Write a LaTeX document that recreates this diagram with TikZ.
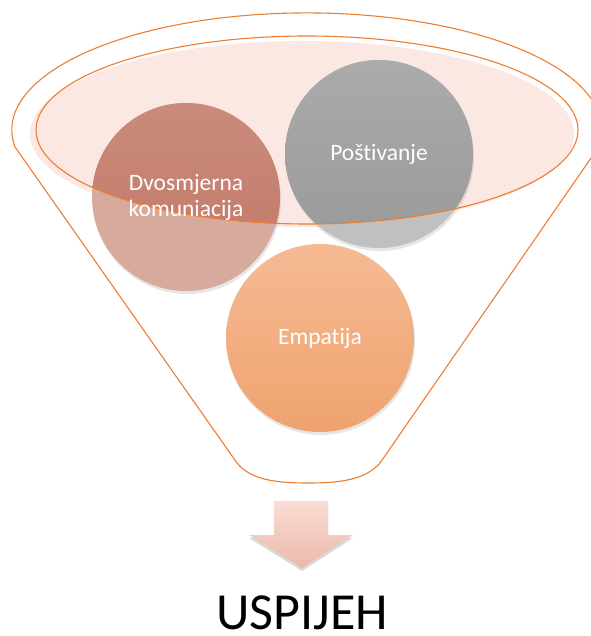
\documentclass[tikz,border=0pt]{standalone}
\usepackage{fontspec}
\setmainfont{Carlito}[Ligatures={NoCommon}]
\usetikzlibrary{shadows}

\definecolor{funnelline}{HTML}{ED7D31}
\definecolor{funnelfill}{HTML}{FBE8E3}
\definecolor{rosedark}{HTML}{C98B7C}
\definecolor{rosedeep}{HTML}{C27665}
\definecolor{roselight}{HTML}{D7AA9E}
\definecolor{greytop}{HTML}{ABABAB}
\definecolor{greybottom}{HTML}{999999}
\definecolor{greylight}{HTML}{C0C0C0}
\definecolor{peachtop}{HTML}{F5BA94}
\definecolor{peachbottom}{HTML}{EFA36E}
\definecolor{arrowtop}{HTML}{FADDD4}
\definecolor{arrowbottom}{HTML}{EBB8AB}

\begin{document}
\begin{tikzpicture}[x=1pt, y=-1pt,
  ball/.style={circle, minimum size=188pt, inner sep=0pt,
    drop shadow={opacity=0.2, shadow xshift=1pt, shadow yshift=-3pt}},
  balltext/.style={text=white, align=center,
    font=\fontsize{23.5}{26}\selectfont}]
  \useasboundingbox (0,0) rectangle (590,636);

  % Pink top of the funnel
  \fill[funnelfill] (302,134) ellipse [x radius=272pt, y radius=93pt];

  % Funnel outline
  \draw[funnelline, line width=1.1pt, line join=round]
    (15,147) arc [start angle=188.4, end angle=-8.4, x radius=295pt, y radius=117pt]
    -- (380,463) .. controls (365,480) and (340,483) .. (308,483)
    .. controls (276,483) and (251,480) .. (237,463) -- cycle;

  % The three balls
  \node[ball, fill=roselight] (talk) at (186,197) {};
  \node[ball, fill=greylight] (respect) at (379,154) {};
  \node[ball, top color=peachtop, bottom color=peachbottom] (empathy) at (320,338) {};

  % Parts of the balls inside the top ellipse are darker
  \begin{scope}
    \clip (307,130) ellipse [x radius=271pt, y radius=94pt];
    \shade[top color=rosedark, bottom color=rosedeep] (talk.center) circle [radius=94pt];
    \shade[top color=greytop, bottom color=greybottom] (respect.center) circle [radius=94pt];
  \end{scope}
  \draw[funnelline, line width=1.1pt] (307,130) ellipse [x radius=271pt, y radius=94pt];

  % Labels
  \node[balltext] (talklabel) at (talk) {Dvosmjerna\\komuniacija};
  \node[balltext] (respectlabel) at (respect) {Poštivanje};
  \node[balltext] (empathylabel) at (empathy) {Empatija};

  % Arrow and result
  \shade[top color=arrowtop, bottom color=arrowbottom,
    drop shadow={opacity=0.3, shadow xshift=0pt, shadow yshift=-3pt}]
    (274,501) -- (328,501) -- (328,535) -- (353,535) -- (302,568)
    -- (249,535) -- (274,535) -- cycle;
  \node[anchor=base, inner sep=0pt, font=\fontsize{52}{60}\selectfont] (result) at (302,629) {USPIJEH};
\end{tikzpicture}
\end{document}
